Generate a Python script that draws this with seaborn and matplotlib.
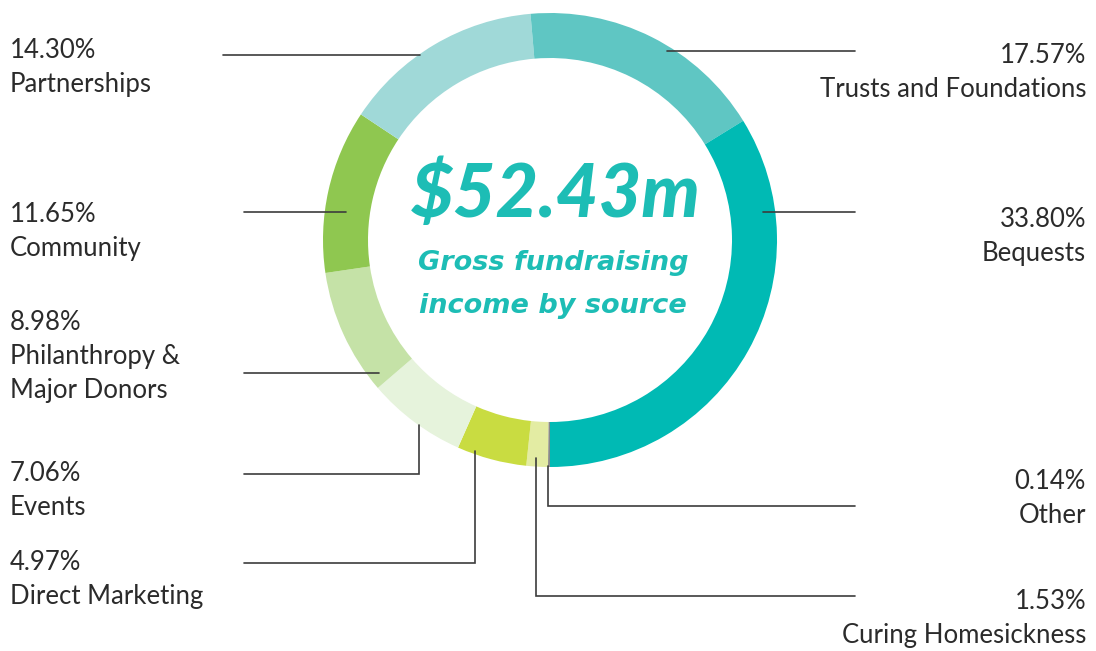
import matplotlib
matplotlib.use("Agg")
import matplotlib.pyplot as plt
import seaborn as sns

# data (clockwise from the bottom of the ring)
sources = ['Other', 'Curing Homesickness', 'Direct Marketing', 'Events',
           'Philanthropy &\nMajor Donors', 'Community', 'Partnerships',
           'Trusts and Foundations', 'Bequests']
shares = [0.14, 1.53, 4.97, 7.06, 8.98, 11.65, 14.30, 17.57, 33.80]
colors = ['#8a8a8a', '#e3eca3', '#c9dc41', '#e6f3dc', '#c5e2a7',
          '#8fc750', '#a0d9d8', '#5fc6c3', '#00bab4']
total = '$52.43m'
subtitle = ['Gross fundraising', 'income by source']

sns.set_theme(style="white")
plt.rcParams['font.family'] = ['Lato', 'DejaVu Sans']

fig = plt.figure(figsize=(10.96, 6.51), dpi=100)
ax = fig.add_axes([0, 0, 1, 1])

# y axis runs downward, so counterclock=True draws clockwise on screen
ax.pie(shares, colors=colors, center=(550, 240), radius=227,
       startangle=90, counterclock=True,
       wedgeprops=dict(width=45, linewidth=0), frame=True)
ax.set_xlim(0, 1096)
ax.set_ylim(651, 0)
ax.set_aspect('equal')
ax.axis('off')

teal = '#1dbdb5'
ax.text(556, 217, total, ha='center', va='baseline', fontsize=53,
        fontweight='black', fontstyle='italic', color=teal)
for i, line in enumerate(subtitle):
    ax.text(553, 270 + 43 * i, line, ha='center', va='baseline',
            fontsize=19.5, fontweight='bold', fontstyle='italic', color=teal,
            family='DejaVu Sans')

# leader lines and label positions: (line path, text x, baseline y, side)
layout = {
    'Other': ([(548, 466), (548, 506), (855, 506)], 1086, 489, 'right'),
    'Curing Homesickness': ([(536, 458), (536, 596), (855, 596)], 1086, 609, 'right'),
    'Direct Marketing': ([(475, 451), (475, 563), (244, 563)], 10, 570, 'left'),
    'Events': ([(419, 425), (419, 474), (244, 474)], 10, 481, 'left'),
    'Philanthropy &\nMajor Donors': ([(379, 373), (244, 373)], 10, 330, 'left'),
    'Community': ([(346, 212), (244, 212)], 10, 222, 'left'),
    'Partnerships': ([(420, 55), (223, 55)], 10, 58, 'left'),
    'Trusts and Foundations': ([(667, 51), (855, 51)], 1086, 63, 'right'),
    'Bequests': ([(763, 212), (855, 212)], 1086, 227, 'right'),
}

ink = '#2b2b2b'
for name, pct in zip(sources, shares):
    path, tx, ty, side = layout[name]
    xs, ys = zip(*path)
    ax.plot(xs, ys, color='#3c3c3c', lw=1.2, solid_joinstyle='miter')
    ax.text(tx, ty, f'{pct:.2f}%', ha=side, va='baseline', fontsize=18.5, color=ink)
    for i, line in enumerate(name.split('\n')):
        ax.text(tx, ty + 34 * (i + 1), line, ha=side, va='baseline',
                fontsize=18.5, color=ink)

fig.savefig('out.png', dpi=100)
